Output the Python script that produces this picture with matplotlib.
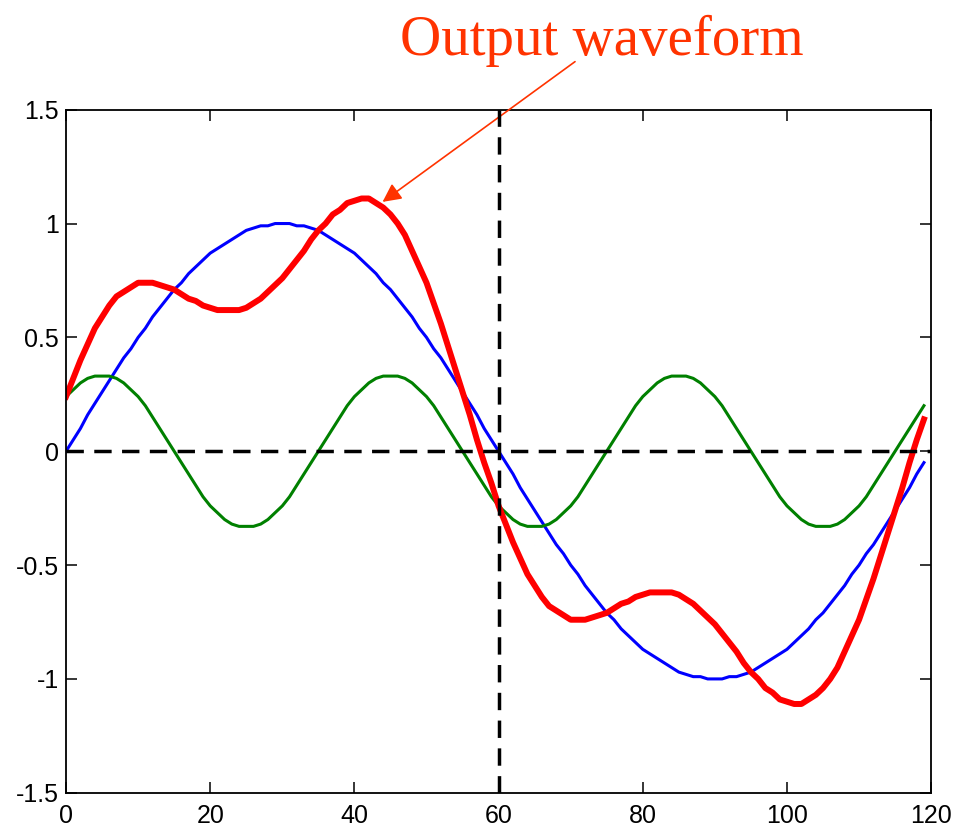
import matplotlib.pyplot as plt

# sample index 0..119
x = list(range(120))

fundamental = [0.00, 0.05, 0.10, 0.16, 0.21, 0.26, 0.31, 0.36, 0.41, 0.45,
               0.50, 0.54, 0.59, 0.63, 0.67, 0.71, 0.74, 0.78, 0.81, 0.84,
               0.87, 0.89, 0.91, 0.93, 0.95, 0.97, 0.98, 0.99, 0.99, 1.00,
               1.00, 1.00, 0.99, 0.99, 0.98, 0.97, 0.95, 0.93, 0.91, 0.89,
               0.87, 0.84, 0.81, 0.78, 0.74, 0.71, 0.67, 0.63, 0.59, 0.54,
               0.50, 0.45, 0.41, 0.36, 0.31, 0.26, 0.21, 0.16, 0.10, 0.05,
               0.00, -0.05, -0.10, -0.16, -0.21, -0.26, -0.31, -0.36, -0.41, -0.45,
               -0.50, -0.54, -0.59, -0.63, -0.67, -0.71, -0.74, -0.78, -0.81, -0.84,
               -0.87, -0.89, -0.91, -0.93, -0.95, -0.97, -0.98, -0.99, -0.99, -1.00,
               -1.00, -1.00, -0.99, -0.99, -0.98, -0.97, -0.95, -0.93, -0.91, -0.89,
               -0.87, -0.84, -0.81, -0.78, -0.74, -0.71, -0.67, -0.63, -0.59, -0.54,
               -0.50, -0.45, -0.41, -0.36, -0.31, -0.26, -0.21, -0.16, -0.10, -0.05]

harmonic = [0.24, 0.27, 0.30, 0.32, 0.33, 0.33, 0.33, 0.32, 0.30, 0.27,
            0.24, 0.20, 0.15, 0.10, 0.05, 0.00, -0.05, -0.10, -0.15, -0.20,
            -0.24, -0.27, -0.30, -0.32, -0.33, -0.33, -0.33, -0.32, -0.30, -0.27,
            -0.24, -0.20, -0.15, -0.10, -0.05, 0.00, 0.05, 0.10, 0.15, 0.20,
            0.24, 0.27, 0.30, 0.32, 0.33, 0.33, 0.33, 0.32, 0.30, 0.27,
            0.24, 0.20, 0.15, 0.10, 0.05, 0.00, -0.05, -0.10, -0.15, -0.20,
            -0.24, -0.27, -0.30, -0.32, -0.33, -0.33, -0.33, -0.32, -0.30, -0.27,
            -0.24, -0.20, -0.15, -0.10, -0.05, 0.00, 0.05, 0.10, 0.15, 0.20,
            0.24, 0.27, 0.30, 0.32, 0.33, 0.33, 0.33, 0.32, 0.30, 0.27,
            0.24, 0.20, 0.15, 0.10, 0.05, 0.00, -0.05, -0.10, -0.15, -0.20,
            -0.24, -0.27, -0.30, -0.32, -0.33, -0.33, -0.33, -0.32, -0.30, -0.27,
            -0.24, -0.20, -0.15, -0.10, -0.05, 0.00, 0.05, 0.10, 0.15, 0.20]

output = [0.24, 0.32, 0.40, 0.47, 0.54, 0.59, 0.64, 0.68, 0.70, 0.72,
          0.74, 0.74, 0.74, 0.73, 0.72, 0.71, 0.69, 0.67, 0.66, 0.64,
          0.63, 0.62, 0.62, 0.62, 0.62, 0.63, 0.65, 0.67, 0.70, 0.73,
          0.76, 0.80, 0.84, 0.88, 0.93, 0.97, 1.00, 1.04, 1.06, 1.09,
          1.10, 1.11, 1.11, 1.09, 1.07, 1.04, 1.00, 0.95, 0.88, 0.81,
          0.74, 0.65, 0.56, 0.46, 0.36, 0.26, 0.16, 0.05, -0.05, -0.14,
          -0.24, -0.32, -0.40, -0.47, -0.54, -0.59, -0.64, -0.68, -0.70, -0.72,
          -0.74, -0.74, -0.74, -0.73, -0.72, -0.71, -0.69, -0.67, -0.66, -0.64,
          -0.63, -0.62, -0.62, -0.62, -0.62, -0.63, -0.65, -0.67, -0.70, -0.73,
          -0.76, -0.80, -0.84, -0.88, -0.93, -0.97, -1.00, -1.04, -1.06, -1.09,
          -1.10, -1.11, -1.11, -1.09, -1.07, -1.04, -1.00, -0.95, -0.88, -0.81,
          -0.74, -0.65, -0.56, -0.46, -0.36, -0.26, -0.16, -0.05, 0.05, 0.14]

plt.rcParams['font.family'] = ['Liberation Sans', 'DejaVu Sans']

fig = plt.figure(figsize=(9.57, 8.31), dpi=100)
ax = fig.add_axes([0.069, 0.046, 0.904, 0.822])

ax.plot(x, fundamental, color='#0000ff', lw=2.2)
ax.plot(x, harmonic, color='#008000', lw=2.2)
ax.plot(x, output, color='#ff0000', lw=4.3)

# zero line and the mid-point marker
ax.axhline(0, color='black', lw=2.5, dashes=(5, 3), zorder=5)
ax.axvline(60, color='black', lw=2.5, dashes=(5, 3), zorder=5)

ax.set_xlim(0, 120)
ax.set_ylim(-1.5, 1.5)
ax.set_xticks([0, 20, 40, 60, 80, 100, 120])
ax.set_yticks([-1.5, -1, -0.5, 0, 0.5, 1, 1.5])
ax.set_yticklabels(['-1.5', '-1', '-0.5', '0', '0.5', '1', '1.5'])
ax.tick_params(direction='in', length=8, width=1.1, labelsize=18,
               top=True, right=True)
ax.tick_params(axis='x', pad=8)
ax.tick_params(axis='y', pad=5)
for s in ax.spines.values():
    s.set_linewidth(1.3)

red_text = '#ff3300'
fig.text(0.629, 0.934, 'Output waveform', color=red_text, fontsize=41,
         family='Liberation Serif', ha='center', va='baseline')
ax.annotate('', xy=(43.9, 1.095), xytext=(70.6, 1.711),
            annotation_clip=False,
            arrowprops=dict(arrowstyle='-|>', color=red_text, lw=1.2,
                            mutation_scale=28, shrinkA=0, shrinkB=0))

fig.savefig('out.png', dpi=100)
